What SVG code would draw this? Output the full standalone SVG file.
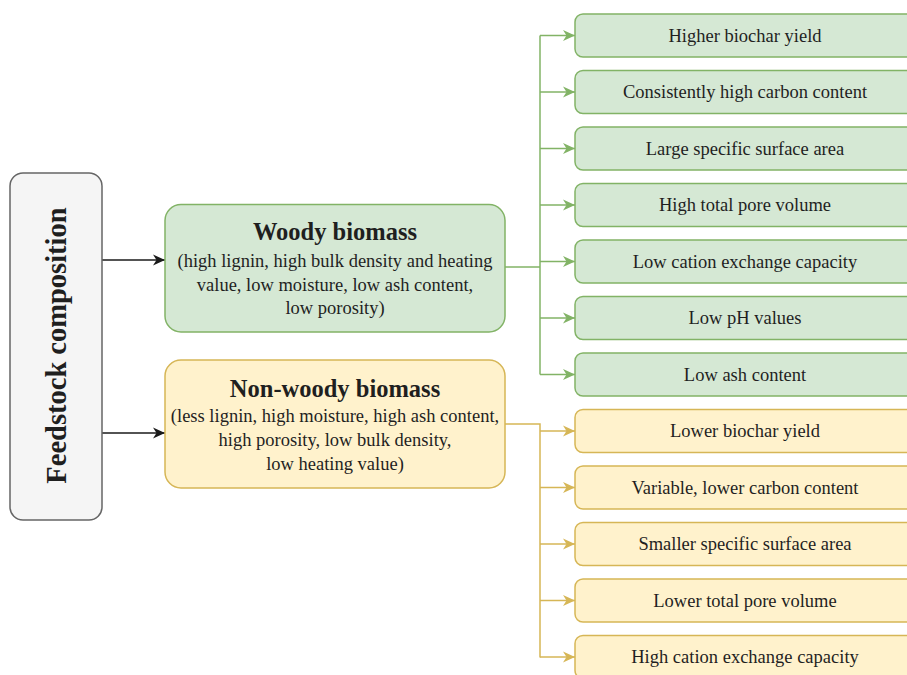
<svg xmlns="http://www.w3.org/2000/svg" width="907" height="675" viewBox="0 0 907 675">
<defs>
<style>
text{font-family:"Liberation Serif","Times New Roman",serif;fill:#1f1f1f}
.g{fill:#d5e8d4;stroke:#82b366;stroke-width:1.5}
.y{fill:#fff2cc;stroke:#d6b656;stroke-width:1.5}
.gr{fill:#f5f5f5;stroke:#666666;stroke-width:1.5}
.lbl{font-size:18.5px;text-anchor:middle}
.ttl{font-size:24.5px;font-weight:bold;text-anchor:middle}
.cg{fill:none;stroke:#82b366;stroke-width:1.5}
.cy{fill:none;stroke:#d6b656;stroke-width:1.5}
.cb{fill:none;stroke:#1a1a1a;stroke-width:1.5}
</style>
<marker id="ag" markerUnits="userSpaceOnUse" markerWidth="14" markerHeight="14" viewBox="0 0 14 14" refX="13" refY="7" orient="auto"><path d="M1,1.5 L13,7 L1,12.5 L4.5,7 Z" fill="#82b366"/></marker>
<marker id="ay" markerUnits="userSpaceOnUse" markerWidth="14" markerHeight="14" viewBox="0 0 14 14" refX="13" refY="7" orient="auto"><path d="M1,1.5 L13,7 L1,12.5 L4.5,7 Z" fill="#d6b656"/></marker>
<marker id="ab" markerUnits="userSpaceOnUse" markerWidth="14" markerHeight="14" viewBox="0 0 14 14" refX="13" refY="7" orient="auto"><path d="M1,1.5 L13,7 L1,12.5 L4.5,7 Z" fill="#1a1a1a"/></marker>
</defs>
<rect width="907" height="675" fill="#ffffff"/>

<g id="connectors">
<line class="cb" x1="102" y1="260" x2="165" y2="260" marker-end="url(#ab)"/>
<line class="cb" x1="102" y1="433" x2="165" y2="433" marker-end="url(#ab)"/>
<polyline class="cg" points="505,267 540,267"/>
<line class="cg" x1="540" y1="35.5" x2="540" y2="374.5"/>
<line class="cg" x1="540" y1="35.5" x2="575" y2="35.5" marker-end="url(#ag)"/>
<line class="cg" x1="540" y1="92" x2="575" y2="92" marker-end="url(#ag)"/>
<line class="cg" x1="540" y1="148.5" x2="575" y2="148.5" marker-end="url(#ag)"/>
<line class="cg" x1="540" y1="205" x2="575" y2="205" marker-end="url(#ag)"/>
<line class="cg" x1="540" y1="261.5" x2="575" y2="261.5" marker-end="url(#ag)"/>
<line class="cg" x1="540" y1="318" x2="575" y2="318" marker-end="url(#ag)"/>
<line class="cg" x1="540" y1="374.5" x2="575" y2="374.5" marker-end="url(#ag)"/>
<polyline class="cy" points="505,424 540,424 540,657.5"/>
<line class="cy" x1="540" y1="431" x2="575" y2="431" marker-end="url(#ay)"/>
<line class="cy" x1="540" y1="487.5" x2="575" y2="487.5" marker-end="url(#ay)"/>
<line class="cy" x1="540" y1="544" x2="575" y2="544" marker-end="url(#ay)"/>
<line class="cy" x1="540" y1="600.5" x2="575" y2="600.5" marker-end="url(#ay)"/>
<line class="cy" x1="540" y1="657" x2="575" y2="657" marker-end="url(#ay)"/>
</g>

<g id="feedstock">
<rect class="gr" x="10" y="173" width="92" height="347" rx="13"/>
<text transform="translate(66,345.5) rotate(-90)" font-size="28.5" font-weight="bold" text-anchor="middle">Feedstock composition</text>
</g>

<g id="woody">
<rect class="g" x="165" y="204.5" width="340" height="127.5" rx="16"/>
<text class="ttl" x="335" y="240">Woody biomass</text>
<text class="lbl" x="335" y="266.5">(high lignin, high bulk density and heating</text>
<text class="lbl" x="335" y="290.5">value, low moisture, low ash content,</text>
<text class="lbl" x="335" y="314">low porosity)</text>
</g>

<g id="nonwoody">
<rect class="y" x="165" y="360" width="340" height="128" rx="16"/>
<text class="ttl" x="335" y="397">Non-woody biomass</text>
<text class="lbl" x="335" y="422">(less lignin, high moisture, high ash content,</text>
<text class="lbl" x="335" y="446">high porosity, low bulk density,</text>
<text class="lbl" x="335" y="469.5">low heating value)</text>
</g>

<g id="w1"><rect class="g" x="575" y="14" width="340" height="43" rx="8"/><text class="lbl" x="745" y="41.5">Higher biochar yield</text></g>
<g id="w2"><rect class="g" x="575" y="70.5" width="340" height="43" rx="8"/><text class="lbl" x="745" y="98">Consistently high carbon content</text></g>
<g id="w3"><rect class="g" x="575" y="127" width="340" height="43" rx="8"/><text class="lbl" x="745" y="154.5">Large specific surface area</text></g>
<g id="w4"><rect class="g" x="575" y="183.5" width="340" height="43" rx="8"/><text class="lbl" x="745" y="211">High total pore volume</text></g>
<g id="w5"><rect class="g" x="575" y="240" width="340" height="43" rx="8"/><text class="lbl" x="745" y="267.5">Low cation exchange capacity</text></g>
<g id="w6"><rect class="g" x="575" y="296.5" width="340" height="43" rx="8"/><text class="lbl" x="745" y="324">Low pH values</text></g>
<g id="w7"><rect class="g" x="575" y="353" width="340" height="43" rx="8"/><text class="lbl" x="745" y="380.5">Low ash content</text></g>

<g id="n1"><rect class="y" x="575" y="409.5" width="340" height="43" rx="8"/><text class="lbl" x="745" y="437">Lower biochar yield</text></g>
<g id="n2"><rect class="y" x="575" y="466" width="340" height="43" rx="8"/><text class="lbl" x="745" y="493.5">Variable, lower carbon content</text></g>
<g id="n3"><rect class="y" x="575" y="522.5" width="340" height="43" rx="8"/><text class="lbl" x="745" y="550">Smaller specific surface area</text></g>
<g id="n4"><rect class="y" x="575" y="579" width="340" height="43" rx="8"/><text class="lbl" x="745" y="606.5">Lower total pore volume</text></g>
<g id="n5"><rect class="y" x="575" y="635.5" width="340" height="43" rx="8"/><text class="lbl" x="745" y="663">High cation exchange capacity</text></g>
</svg>
